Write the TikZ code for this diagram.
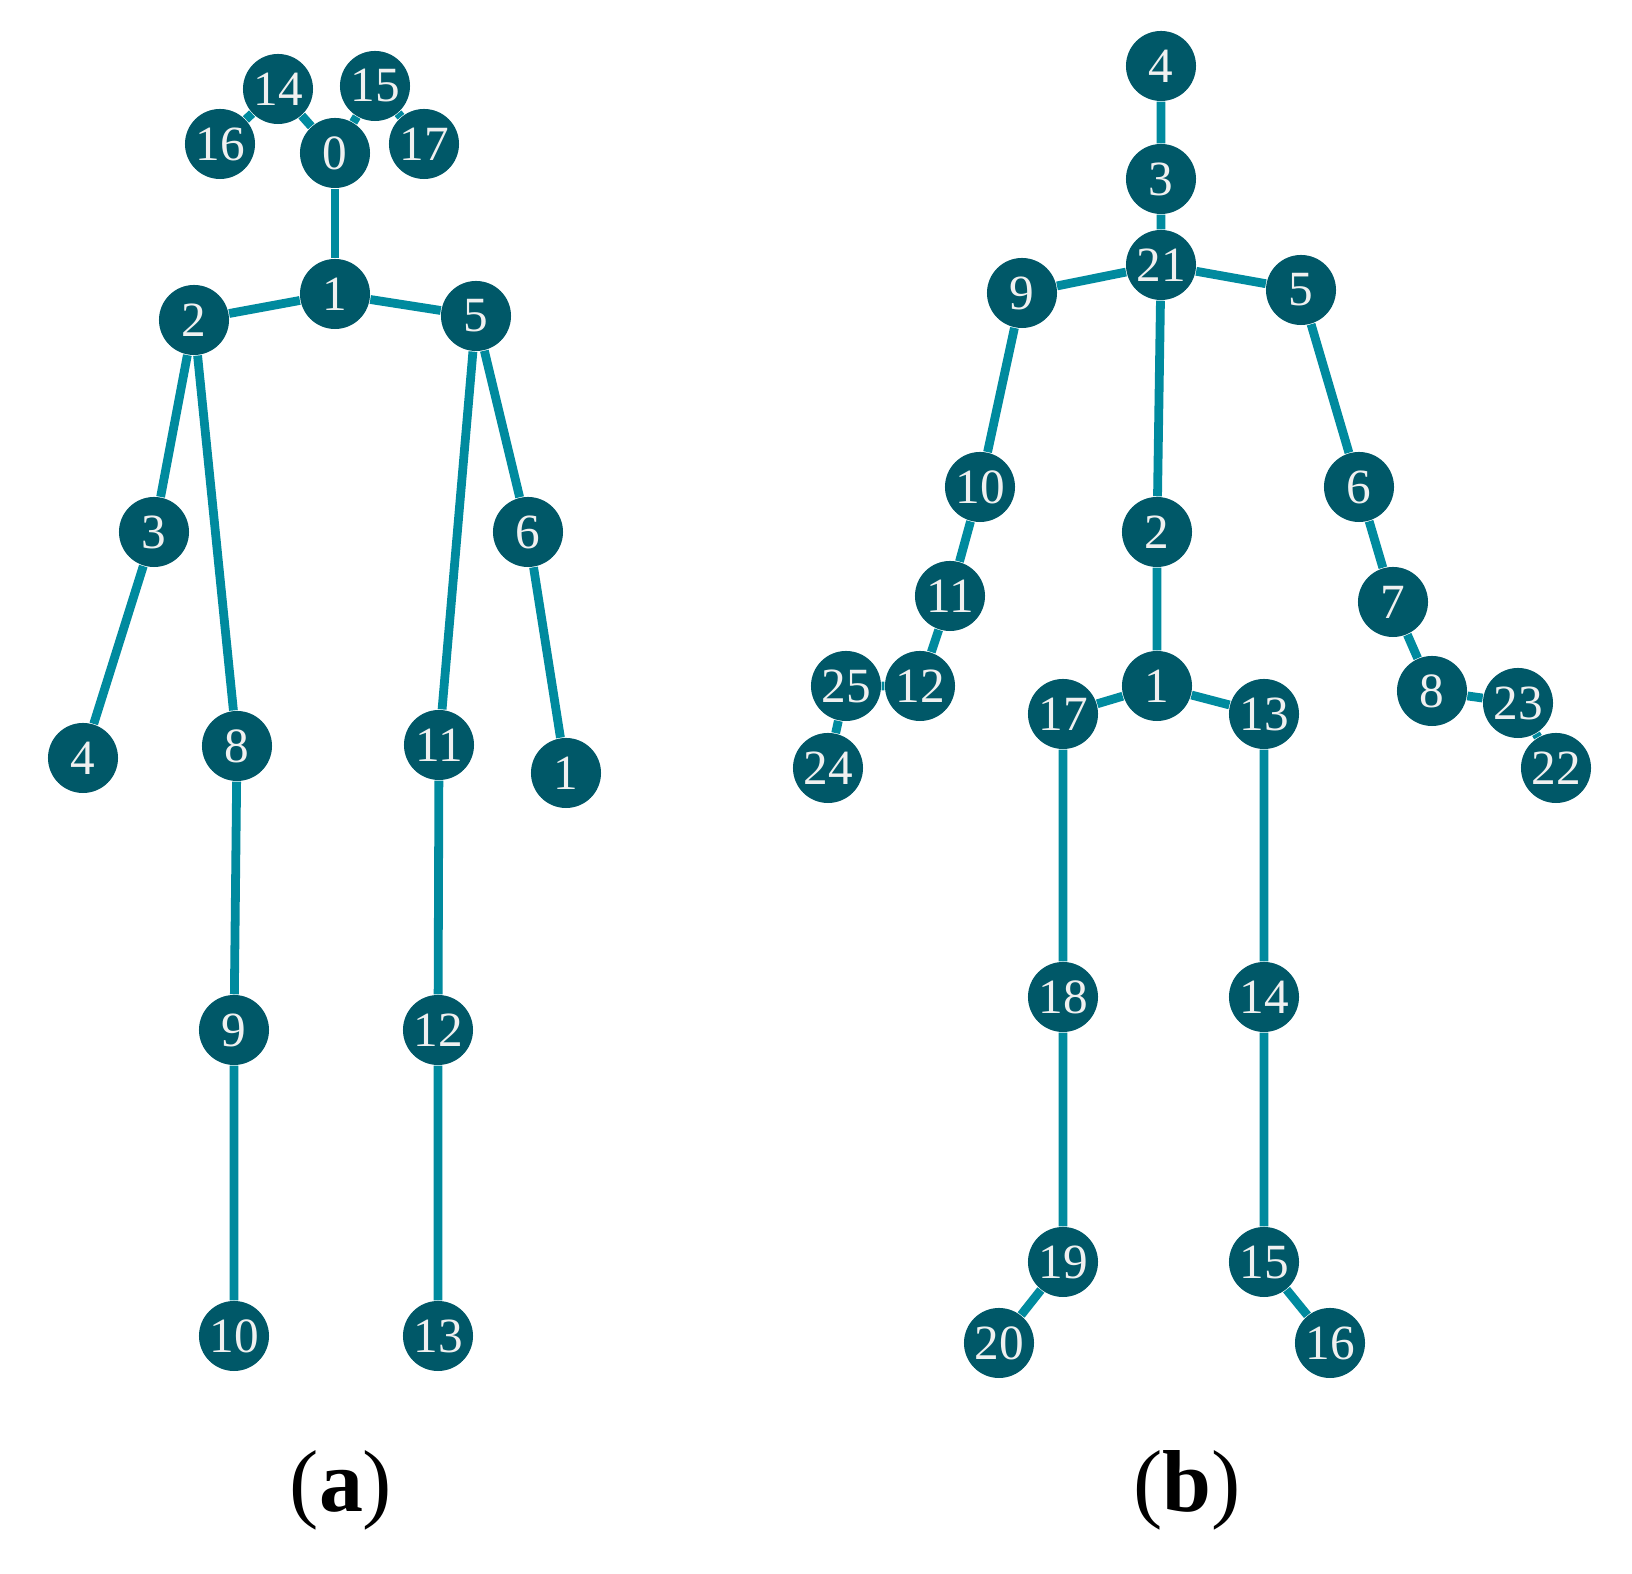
\documentclass[tikz,border=0pt]{standalone}
\usepackage{fontspec}
\setmainfont{Liberation Serif}
\usetikzlibrary{positioning}

\definecolor{jointfill}{RGB}{0,88,104}
\definecolor{bonecol}{RGB}{0,138,158}

\begin{document}
\begin{tikzpicture}[
    x=0.01cm, y=-0.01cm,
    joint/.style={circle, fill=jointfill, text=white!94!black, inner sep=0pt, minimum size=0.70cm, font=\fontsize{14}{14}\selectfont},
    bone/.style={draw=bonecol, line width=2.5pt},
    caption/.style={font=\fontsize{25}{25}\selectfont}
  ]
    \useasboundingbox (0,0) rectangle (1632,1574);

    % (a) skeleton
    \node[joint] (a14) at (278,89) {14};
    \node[joint] (a15) at (375,86) {15};
    \node[joint] (a16) at (220,144) {16};
    \node[joint] (a0) at (335,153) {0};
    \node[joint] (a17) at (424,144) {17};
    \node[joint] (a1) at (335,294) {1};
    \node[joint] (a2) at (194,320) {2};
    \node[joint] (a5) at (476,316) {5};
    \node[joint] (a3) at (154,532) {3};
    \node[joint] (a6) at (528,532) {6};
    \node[joint] (a4) at (83,758) {4};
    \node[joint] (a8) at (237,746) {8};
    \node[joint] (a11) at (439,745) {11};
    \node[joint] (a7) at (566,773) {1};
    \node[joint] (a9) at (234,1030) {9};
    \node[joint] (a12) at (438,1030) {12};
    \node[joint] (a10) at (234,1336) {10};
    \node[joint] (a13) at (438,1336) {13};

    \draw[bone] (a16) -- (a14) -- (a0) -- (a15) -- (a17);
    \draw[bone] (a0) -- (a1);
    \draw[bone] (a2) -- (a1) -- (a5);
    \draw[bone] (a2) -- (a3) -- (a4);
    \draw[bone] (a2) -- (a8) -- (a9) -- (a10);
    \draw[bone] (a5) -- (a6) -- (a7);
    \draw[bone] (a5) -- (a11) -- (a12) -- (a13);

    % (b) skeleton
    \node[joint] (b4) at (1161,66) {4};
    \node[joint] (b3) at (1161,179) {3};
    \node[joint] (b21) at (1161,265) {21};
    \node[joint] (b9) at (1022,293) {9};
    \node[joint] (b5) at (1301,290) {5};
    \node[joint] (b10) at (980,487) {10};
    \node[joint] (b2) at (1157,532) {2};
    \node[joint] (b6) at (1359,487) {6};
    \node[joint] (b11) at (950,596) {11};
    \node[joint] (b7) at (1393,602) {7};
    \node[joint] (b25) at (846,686) {25};
    \node[joint] (b12) at (920,686) {12};
    \node[joint] (b1) at (1157,686) {1};
    \node[joint] (b17) at (1063,714) {17};
    \node[joint] (b13) at (1264,714) {13};
    \node[joint] (b8) at (1432,691) {8};
    \node[joint] (b23) at (1518,703) {23};
    \node[joint] (b22) at (1556,768) {22};
    \node[joint] (b24) at (828,768) {24};
    \node[joint] (b18) at (1063,997) {18};
    \node[joint] (b14) at (1264,997) {14};
    \node[joint] (b19) at (1063,1262) {19};
    \node[joint] (b15) at (1264,1262) {15};
    \node[joint] (b20) at (999,1343) {20};
    \node[joint] (b16) at (1330,1343) {16};

    \draw[bone] (b4) -- (b3) -- (b21) -- (b2) -- (b1);
    \draw[bone] (b9) -- (b21) -- (b5);
    \draw[bone] (b9) -- (b10) -- (b11) -- (b12) -- (b25) -- (b24);
    \draw[bone] (b5) -- (b6) -- (b7) -- (b8) -- (b23) -- (b22);
    \draw[bone] (b17) -- (b1) -- (b13);
    \draw[bone] (b17) -- (b18) -- (b19) -- (b20);
    \draw[bone] (b13) -- (b14) -- (b15) -- (b16);

    % captions
    \node[caption] (capa) at (341,1490) {(\textbf{a})};
    \node[caption] (capb) at (1187,1490) {(\textbf{b})};
  \end{tikzpicture}
\end{document}
